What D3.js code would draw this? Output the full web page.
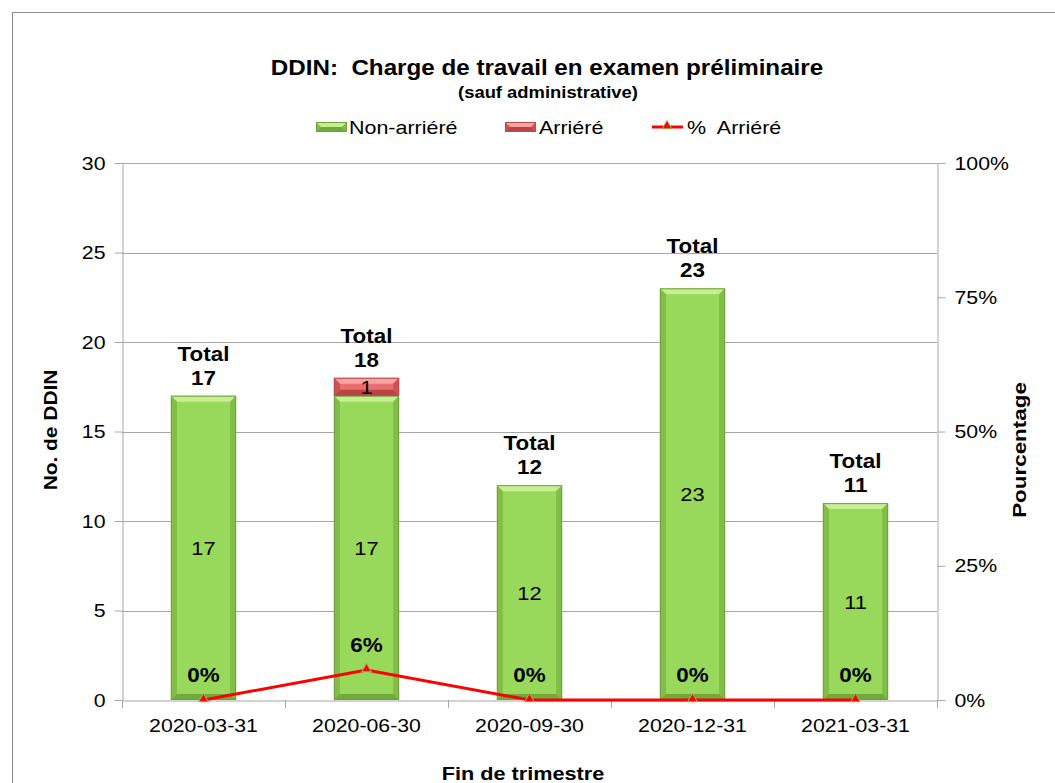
<!DOCTYPE html>
<html>
<head>
<meta charset="utf-8">
<script src="https://cdn.jsdelivr.net/npm/d3@7"></script>
<style>
  body { margin: 0; background: #fff; }
  svg { font-family: "Liberation Sans", Arial, sans-serif; }
</style>
</head>
<body>
<div id="visContainer"></div>
<script>
// data
const categories = ["2020-03-31", "2020-06-30", "2020-09-30", "2020-12-31", "2021-03-31"];
const nonArriere = [17, 17, 12, 23, 11];
const arriere = [0, 1, 0, 0, 0];
const pctArriere = [0, 0.056, 0, 0, 0];
const leftTicks = [0, 5, 10, 15, 20, 25, 30];
const rightTicks = [0, 0.25, 0.5, 0.75, 1];

const width = 1055;
const height = 783;
const margin = { top: 163, right: 118, bottom: 83, left: 122 };

const svg = d3.select("#visContainer")
  .append("svg")
  .attr("width", width)
  .attr("height", height);

// the original text is a bit wider than Liberation Sans, so stretch it horizontally
function stretch(sel, s) {
  sel.each(function () {
    const t = d3.select(this);
    let ax = t.attr("x");
    if (ax == null && !t.select("tspan").empty()) ax = t.select("tspan").attr("x");
    ax = +ax || 0;
    const prev = t.attr("transform") || "";
    t.attr("transform", `${prev} translate(${ax},0) scale(${s},1) translate(${-ax},0)`);
  });
}

// outer chart frame
svg.append("rect")
  .attr("x", 12.5).attr("y", 12.5)
  .attr("width", 1100).attr("height", 1000)
  .attr("fill", "none")
  .attr("stroke", "#8c8c8c");

const x = d3.scaleBand()
  .domain(categories)
  .range([margin.left, width - margin.right])
  .padding(0);

const y = d3.scaleLinear()
  .domain([0, 30])
  .range([height - margin.bottom, margin.top]);

const yPct = d3.scaleLinear()
  .domain([0, 1])
  .range([height - margin.bottom, margin.top]);

const gridColor = "#a6a6a6";

// gridlines
svg.append("g")
  .selectAll("line")
  .data(leftTicks.filter(d => d > 0))
  .join("line")
  .attr("x1", margin.left).attr("x2", width - margin.right)
  .attr("y1", d => Math.round(y(d)) + 0.5).attr("y2", d => Math.round(y(d)) + 0.5)
  .attr("stroke", gridColor);

// axes
const leftAxis = svg.append("g")
  .attr("transform", `translate(${margin.left + 0.5},0)`)
  .call(d3.axisLeft(y).tickValues(leftTicks).tickSize(8).tickPadding(9).tickSizeOuter(0));

const rightAxis = svg.append("g")
  .attr("transform", `translate(${width - margin.right + 0.5},0)`)
  .call(d3.axisRight(yPct).tickValues(rightTicks).tickFormat(d3.format(".0%")).tickSize(8).tickPadding(9).tickSizeOuter(0));

const bottomAxis = svg.append("g")
  .attr("transform", `translate(0,${height - margin.bottom + 0.5})`)
  .call(d3.axisBottom(x).tickSize(0).tickPadding(18));

[leftAxis, rightAxis, bottomAxis].forEach(g => {
  g.select(".domain").attr("stroke", gridColor);
  g.selectAll(".tick line").attr("stroke", gridColor);
  g.selectAll("text").attr("font-size", 19).attr("fill", "#000")
    .attr("font-family", "Liberation Sans, Arial, sans-serif");
  stretch(g.selectAll("text"), 1.12);
});

// category boundary ticks on the x axis
const bounds = categories.map(c => x(c)).concat([x.range()[1]]);
svg.append("g")
  .selectAll("line")
  .data(bounds)
  .join("line")
  .attr("x1", d => Math.round(d) + 0.5).attr("x2", d => Math.round(d) + 0.5)
  .attr("y1", height - margin.bottom).attr("y2", height - margin.bottom + 8)
  .attr("stroke", gridColor);

// stacked data
const rows = categories.map((c, i) => ({
  cat: c, non: nonArriere[i], arr: arriere[i], pct: pctArriere[i],
  total: nonArriere[i] + arriere[i]
}));

const barW = x.bandwidth() * 0.4;
const barX = d => x(d.cat) + (x.bandwidth() - barW) / 2;
const cx = d => x(d.cat) + x.bandwidth() / 2;

// beveled bar helper
function bevelBar(g, x0, y0, w, h, c) {
  const b = Math.min(6, h / 2);
  g.append("rect").attr("x", x0).attr("y", y0).attr("width", w).attr("height", h).attr("fill", c.base);
  const poly = pts => g.append("polygon").attr("points", pts.map(p => p.join(",")).join(" "));
  poly([[x0, y0], [x0 + w, y0], [x0 + w - b, y0 + b], [x0 + b, y0 + b]]).attr("fill", c.top);
  poly([[x0, y0], [x0 + b, y0 + b], [x0 + b, y0 + h - b], [x0, y0 + h]]).attr("fill", c.side);
  poly([[x0 + w, y0], [x0 + w, y0 + h], [x0 + w - b, y0 + h - b], [x0 + w - b, y0 + b]]).attr("fill", c.side);
  poly([[x0, y0 + h], [x0 + b, y0 + h - b], [x0 + w - b, y0 + h - b], [x0 + w, y0 + h]]).attr("fill", c.bottom);
  g.append("rect").attr("x", x0 + 0.5).attr("y", y0 + 0.5).attr("width", w - 1).attr("height", Math.max(0, h - 1))
    .attr("fill", "none").attr("stroke", c.edge).attr("stroke-width", 1);
}

const green = { base: "#98d85a", top: "#c6f090", side: "#82bd47", bottom: "#72a83c", edge: "#739f40" };
const red = { base: "#e96e6e", top: "#f7a3a3", side: "#cf5252", bottom: "#b84444", edge: "#b94a4a" };

const bars = svg.append("g");
rows.forEach(d => {
  bevelBar(bars, barX(d), y(d.non), barW, y(0) - y(d.non), green);
  if (d.arr > 0) bevelBar(bars, barX(d), y(d.total), barW, y(d.non) - y(d.total), red);
});

// value labels inside segments
const nonLabels = svg.append("g")
  .selectAll("text")
  .data(rows)
  .join("text")
  .attr("x", cx)
  .attr("y", d => (y(0) + y(d.non)) / 2 + 7)
  .attr("text-anchor", "middle")
  .attr("font-size", 19)
  .text(d => d.non);
stretch(nonLabels, 1.15);

const arrLabels = svg.append("g")
  .selectAll("text")
  .data(rows.filter(d => d.arr > 0))
  .join("text")
  .attr("x", cx)
  .attr("y", d => (y(d.non) + y(d.total)) / 2 + 7)
  .attr("text-anchor", "middle")
  .attr("font-size", 19)
  .text(d => d.arr);
stretch(arrLabels, 1.15);

// total labels
const totals = svg.append("g")
  .selectAll("text")
  .data(rows)
  .join("text")
  .attr("text-anchor", "middle")
  .attr("font-size", 20)
  .attr("font-weight", "bold");
totals.append("tspan")
  .attr("x", cx)
  .attr("y", d => y(d.total) - 35)
  .text("Total");
totals.append("tspan")
  .attr("x", cx)
  .attr("y", d => y(d.total) - 11)
  .text(d => d.total);
stretch(totals, 1.12);

// % arriere line
const line = d3.line()
  .x(cx)
  .y(d => yPct(d.pct));

svg.append("path")
  .datum(rows)
  .attr("d", line)
  .attr("fill", "none")
  .attr("stroke", "#ff0000")
  .attr("stroke-width", 3);

const tri = d3.symbol().type(d3.symbolTriangle).size(40);
svg.append("g")
  .selectAll("path")
  .data(rows)
  .join("path")
  .attr("d", tri)
  .attr("transform", d => `translate(${cx(d)},${yPct(d.pct) - 1})`)
  .attr("fill", "#ff0000")
  .attr("stroke", "#9bbb59")
  .attr("stroke-width", 1);

const pctLabels = svg.append("g")
  .selectAll("text")
  .data(rows)
  .join("text")
  .attr("x", cx)
  .attr("y", d => yPct(d.pct) - 18)
  .attr("text-anchor", "middle")
  .attr("font-size", 20)
  .attr("font-weight", "bold")
  .text(d => d3.format(".0%")(d.pct));
stretch(pctLabels, 1.12);

// titles
const title = svg.append("text")
  .attr("x", 547).attr("y", 75)
  .attr("text-anchor", "middle")
  .attr("font-size", 22).attr("font-weight", "bold")
  .attr("xml:space", "preserve")
  .text("DDIN:  Charge de travail en examen préliminaire");
stretch(title, 1.1);

const subtitle = svg.append("text")
  .attr("x", 548).attr("y", 98)
  .attr("text-anchor", "middle")
  .attr("font-size", 16).attr("font-weight", "bold")
  .text("(sauf administrative)");
stretch(subtitle, 1.15);

// legend
const legend = svg.append("g");
const lgY = 127;
bevelBar(legend, 316, lgY - 5, 31, 10, green);
bevelBar(legend, 505, lgY - 5, 31, 10, red);
legend.append("line").attr("x1", 652).attr("x2", 683).attr("y1", lgY).attr("y2", lgY)
  .attr("stroke", "#ff0000").attr("stroke-width", 3);
legend.append("path").attr("d", tri).attr("transform", `translate(667,${lgY - 1})`)
  .attr("fill", "#ff0000").attr("stroke", "#9bbb59");
const lgText = legend.selectAll("text")
  .data([["Non-arriéré", 349], ["Arriéré", 539], ["%  Arriéré", 687]])
  .join("text")
  .attr("x", d => d[1]).attr("y", lgY + 7)
  .attr("font-size", 19)
  .attr("xml:space", "preserve")
  .text(d => d[0]);
stretch(lgText, 1.13);

// axis titles
const yTitle = svg.append("text")
  .attr("transform", "translate(57,430) rotate(-90)")
  .attr("text-anchor", "middle")
  .attr("font-size", 19).attr("font-weight", "bold")
  .text("No. de DDIN");
stretch(yTitle, 1.1);

const y2Title = svg.append("text")
  .attr("transform", "translate(1026,450) rotate(-90)")
  .attr("text-anchor", "middle")
  .attr("font-size", 19).attr("font-weight", "bold")
  .text("Pourcentage");
stretch(y2Title, 1.18);

const xTitle = svg.append("text")
  .attr("x", 523).attr("y", 780)
  .attr("text-anchor", "middle")
  .attr("font-size", 19).attr("font-weight", "bold")
  .text("Fin de trimestre");
stretch(xTitle, 1.14);
</script>
</body>
</html>
